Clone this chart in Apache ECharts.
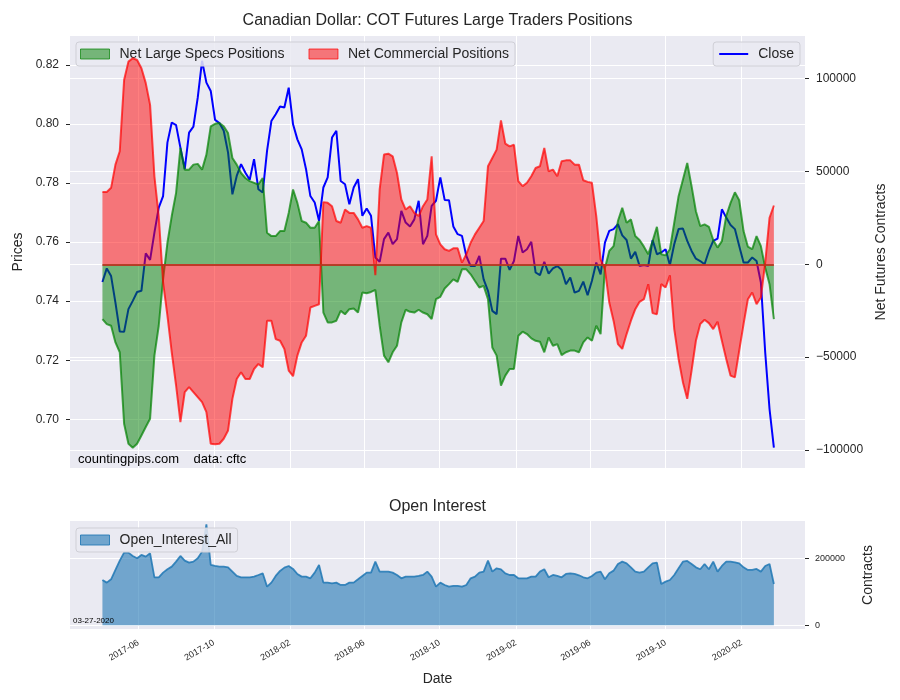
<!DOCTYPE html>
<html><head><meta charset="utf-8">
<script src="https://cdn.jsdelivr.net/npm/echarts@6/dist/echarts.min.js"></script>
<style>html,body{margin:0;padding:0;background:#fff}#chart{width:900px;height:700px}</style>
</head><body><div id="chart"></div>
<script>
// ---- data (weekly COT report dates, first date below, one point per week) ----
const startDate = '2017-04-04';
const closePrices = [
0.7465,0.7511,0.7485,0.7395,0.7297,0.7296,0.7373,0.7401,0.7431,0.7435,
0.7562,0.7540,0.7632,0.7717,0.7756,0.7937,0.8005,0.7996,0.7920,0.7847,
0.7971,0.7991,0.8089,0.8214,0.8140,0.8112,0.8014,0.8003,0.7977,0.7903,
0.7762,0.7824,0.7864,0.7835,0.7811,0.7881,0.7779,0.7768,0.7909,0.8010,
0.8033,0.8059,0.8056,0.8123,0.7999,0.7948,0.7914,0.7847,0.7756,0.7734,
0.7672,0.7785,0.7819,0.7954,0.7977,0.7807,0.7796,0.7728,0.7785,0.7813,
0.7689,0.7714,0.7689,0.7548,0.7533,0.7610,0.7632,0.7593,0.7610,0.7706,
0.7666,0.7653,0.7677,0.7740,0.7593,0.7621,0.7723,0.7740,0.7819,0.7743,
0.7742,0.7653,0.7627,0.7621,0.7553,0.7519,0.7519,0.7553,0.7474,0.7435,
0.7367,0.7356,0.7544,0.7544,0.7506,0.7536,0.7621,0.7565,0.7576,0.7601,
0.7497,0.7488,0.7533,0.7493,0.7511,0.7519,0.7506,0.7457,0.7480,0.7429,
0.7435,0.7466,0.7420,0.7469,0.7531,0.7491,0.7598,0.7638,0.7644,0.7661,
0.7623,0.7607,0.7544,0.7567,0.7519,0.7522,0.7519,0.7607,0.7559,0.7565,
0.7576,0.7522,0.7593,0.7644,0.7646,0.7604,0.7570,0.7544,0.7536,0.7525,
0.7570,0.7604,0.7612,0.7711,0.7683,0.7658,0.7644,0.7587,0.7531,0.7531,
0.7548,0.7536,0.7463,0.7226,0.7034,0.6904];
const netLargeSpecs = [
-29500,-32200,-33100,-42100,-47400,-85900,-96700,-98800,-96700,-92200,
-87700,-83200,-49200,-33100,-8100,11600,26000,38500,62700,51000,
51000,53700,54100,51000,59100,74300,75700,76100,74300,70700,
57300,53700,49200,46500,44800,43900,43000,46500,17000,15200,
15200,17900,17900,27700,40300,33100,23300,22400,19700,19700,
23300,-26000,-31300,-31300,-30400,-25100,-26900,-24200,-23800,-26000,
-15200,-15600,-14900,-13800,-33100,-49200,-52800,-47400,-43900,-31300,
-24500,-25600,-26000,-24500,-26000,-26900,-29500,-18800,-17500,-13000,
-10700,-8100,-9500,-2700,-2700,-5400,-9000,-12500,-11600,-18800,
-44800,-49200,-65300,-60000,-56400,-56400,-38500,-36300,-37600,-39900,
-41200,-41700,-47400,-39400,-43900,-43000,-48900,-47400,-46500,-46500,
-47400,-42100,-39400,-41200,-33100,-37600,-2000,7200,9800,23300,
30400,22400,24200,15200,13100,9500,5400,12500,20200,5400,
4800,8100,22400,36700,45600,54600,42100,28600,20600,21500,
20200,13100,9000,12500,26000,33100,38800,34500,17900,9500,
8100,15200,9800,-1800,-10700,-29500];
const netCommercial = [
39000,39000,41200,53700,60900,99300,109200,111000,110100,105600,
97600,85900,47400,26000,-9800,-27700,-47400,-65300,-85000,-68900,
-66200,-68900,-71600,-74300,-79600,-96700,-97000,-96700,-94000,-89500,
-72500,-61800,-58200,-61800,-61800,-56400,-53700,-55500,-30400,-30400,
-40300,-41200,-45600,-57300,-60300,-49200,-42100,-38500,-23300,-22400,
-21500,33500,33100,31300,23300,22400,29500,27700,27700,24200,
19700,20600,19700,-5900,40300,59100,59600,58200,49200,34900,
29500,31300,27700,26000,31300,34900,58200,16100,10700,8100,
7200,8600,8600,900,5400,11600,16100,19700,23300,52800,
57300,61800,77500,65000,63500,64400,44800,42100,43900,47400,
51900,52800,62700,50100,51000,47400,55500,56000,56000,53700,
53700,45300,44400,43900,26000,2700,-2700,-20600,-30500,-43000,
-45600,-37600,-30400,-24200,-20200,-18800,-10700,-26300,-26900,-10700,
-12500,-5900,-34900,-51000,-63500,-72500,-57300,-41200,-32200,-29900,
-31700,-34900,-31000,-41200,-51000,-60000,-60900,-46500,-32200,-18800,
-15200,-21500,-17900,900,25100,31700];
const openInterest = [
135300,127400,137300,165200,193000,216900,216900,207000,200000,210000,
205000,214900,143300,143300,157200,167200,175100,190000,207000,193000,
187100,190000,200000,219900,301500,180100,177100,175100,175100,173100,
160200,147300,143300,143300,143300,145300,150200,155200,115400,127400,
147300,162200,172100,177100,168200,153200,145300,145300,140300,157200,
180100,127400,127400,125400,127400,120400,120400,127400,127400,137300,
147300,157200,157200,190000,160200,160200,160200,157200,150200,140300,
145300,145300,145300,147300,150200,160200,145300,115400,127400,120400,
115400,117400,117400,115400,120400,140300,145300,157200,160200,193000,
160200,170100,167200,155200,150200,150200,140300,140300,140300,145300,
145300,160200,167200,143300,150200,147300,143300,153200,155200,153200,
149300,143300,140300,147300,157200,160200,137300,155200,163200,183100,
190000,185100,173100,160200,157200,160200,173100,185100,187100,123400,
130300,135300,150200,170100,190000,192000,183100,173100,167200,183100,
167200,190000,160200,177100,190000,190000,188100,185100,173100,165200,
165200,168200,160200,177100,183100,123400];
const xTickLabels = ['2017-06','2017-10','2018-02','2018-06','2018-10','2019-02','2019-06','2019-10','2020-02'];
const priceTicks = [0.70,0.72,0.74,0.76,0.78,0.80,0.82];
const contractTicks = [-100000,-50000,0,50000,100000];
const oiTicks = [0,200000];

// ---- build ----
const DAY = 86400000;
const t0 = Date.parse(startDate + 'T00:00:00Z');
const dates = closePrices.map((_, i) => t0 + i * 7 * DAY);
const tickTimes = xTickLabels.map(s => Date.parse(s + '-01T00:00:00Z'));
const xMin = Date.parse('2017-02-10T14:00:00Z');
const xMax = Date.parse('2020-05-13T07:00:00Z');
const pair = arr => arr.map((v, i) => [dates[i], v]);
const fmtMonth = v => { const d = new Date(v); return d.getUTCFullYear() + '-' + String(d.getUTCMonth() + 1).padStart(2, '0'); };
const fmtInt = v => (v < 0 ? '\u2212' + Math.abs(v) : String(v));

const FONT = 'Liberation Sans, Arial, sans-serif';
const TXT = '#262626';
const BG = '#EAEAF2';
const split = { show: true, lineStyle: { color: '#ffffff', width: 1 } };

const chart = echarts.init(document.getElementById('chart'), null, { renderer: 'canvas' });
chart.setOption({
  backgroundColor: '#ffffff',
  animation: false,
  textStyle: { fontFamily: FONT, color: TXT },
  grid: [
    { left: 70, right: 95, top: 36, height: 432, show: true, backgroundColor: BG, borderWidth: 0 },
    { left: 70, right: 95, top: 521, height: 108, show: true, backgroundColor: BG, borderWidth: 0 }
  ],
  xAxis: [
    { type: 'value', gridIndex: 0, min: xMin, max: xMax, axisLine: { show: false },
      axisTick: { show: false, customValues: tickTimes }, axisLabel: { show: false, customValues: tickTimes },
      splitLine: split },
    { type: 'value', gridIndex: 1, min: xMin, max: xMax, axisLine: { show: false },
      axisTick: { show: false, customValues: tickTimes },
      axisLabel: { customValues: tickTimes, formatter: fmtMonth, rotate: 30, fontSize: 9, color: TXT, margin: 13, fontFamily: FONT },
      splitLine: split,
      name: 'Date', nameLocation: 'middle', nameGap: 43, nameTextStyle: { fontSize: 14, color: TXT, fontFamily: FONT } }
  ],
  yAxis: [
    { type: 'value', gridIndex: 0, position: 'left', min: 0.6835, max: 0.8298,
      axisLine: { show: false },
      axisTick: { show: true, length: 4, customValues: priceTicks, lineStyle: { color: TXT } },
      axisLabel: { customValues: priceTicks, formatter: v => v.toFixed(2), fontSize: 12, color: TXT, margin: 11, fontFamily: FONT },
      splitLine: split,
      name: 'Prices', nameLocation: 'middle', nameGap: 44, nameRotate: 90,
      nameTextStyle: { fontSize: 14, color: TXT, fontFamily: FONT } },
    { type: 'value', gridIndex: 0, position: 'right', min: -109750, max: 123000,
      axisLine: { show: false },
      axisTick: { show: true, length: 4, customValues: contractTicks, lineStyle: { color: TXT } },
      axisLabel: { customValues: contractTicks, formatter: fmtInt, fontSize: 12, color: TXT, margin: 11, fontFamily: FONT },
      splitLine: split,
      name: 'Net Futures Contracts', nameLocation: 'middle', nameGap: 45, nameRotate: 90,
      nameTextStyle: { fontSize: 14, color: TXT, fontFamily: FONT } },
    { type: 'value', gridIndex: 1, position: 'right', min: -11045, max: 311340,
      axisLine: { show: false },
      axisTick: { show: true, length: 4, customValues: oiTicks, lineStyle: { color: TXT } },
      axisLabel: { customValues: oiTicks, formatter: fmtInt, fontSize: 9, color: TXT, margin: 10, fontFamily: FONT },
      splitLine: split,
      name: 'Contracts', nameLocation: 'middle', nameGap: 56, nameRotate: 90,
      nameTextStyle: { fontSize: 14, color: TXT, fontFamily: FONT } }
  ],
  legend: [
    { left: 76, top: 42, orient: 'horizontal', itemWidth: 29, itemHeight: 10, itemGap: 24,
      padding: [5, 6, 5, 4], backgroundColor: 'rgba(234,234,242,0.85)', borderColor: '#cfcfd6', borderWidth: 1, borderRadius: 3,
      textStyle: { fontSize: 14, color: TXT, fontFamily: FONT, padding: [0, 0, 0, 5] },
      data: [
        { name: 'Net Large Specs Positions', icon: 'rect', itemStyle: { color: 'rgba(0,128,0,0.5)', borderColor: 'rgba(0,128,0,0.7)', borderWidth: 1 } },
        { name: 'Net Commercial Positions', icon: 'rect', itemStyle: { color: 'rgba(255,0,0,0.5)', borderColor: 'rgba(255,0,0,0.7)', borderWidth: 1 } }
      ] },
    { right: 100, top: 42, itemWidth: 29, itemHeight: 10,
      padding: [5, 6, 5, 5], backgroundColor: 'rgba(234,234,242,0.85)', borderColor: '#cfcfd6', borderWidth: 1, borderRadius: 3,
      textStyle: { fontSize: 14, color: TXT, fontFamily: FONT, padding: [0, 0, 0, 5] },
      data: [{ name: 'Close', itemStyle: { opacity: 0 }, lineStyle: { color: '#0000ff', width: 2 } }] },
    { left: 76, top: 528, itemWidth: 29, itemHeight: 10,
      padding: [5, 6, 5, 4], backgroundColor: 'rgba(234,234,242,0.85)', borderColor: '#cfcfd6', borderWidth: 1, borderRadius: 3,
      textStyle: { fontSize: 14, color: TXT, fontFamily: FONT, padding: [0, 0, 0, 5] },
      data: [{ name: 'Open_Interest_All', icon: 'rect', itemStyle: { color: 'rgba(31,119,180,0.6)', borderColor: 'rgba(31,119,180,0.85)', borderWidth: 1 } }] }
  ],
  graphic: [
    { type: 'text', x: 437.5, y: 21, style: { text: 'Canadian Dollar: COT Futures Large Traders Positions', font: '16px ' + FONT, fill: TXT, textAlign: 'center', textVerticalAlign: 'middle' } },
    { type: 'text', x: 437.5, y: 507, style: { text: 'Open Interest', font: '16px ' + FONT, fill: TXT, textAlign: 'center', textVerticalAlign: 'middle' } },
    { type: 'text', x: 78, y: 459, z: 100, style: { text: 'countingpips.com    data: cftc', font: '13px ' + FONT, fill: '#000', textAlign: 'left', textVerticalAlign: 'middle' } },
    { type: 'text', x: 73, y: 621, z: 100, style: { text: '03-27-2020', font: '8px ' + FONT, fill: '#000', textAlign: 'left', textVerticalAlign: 'middle' } }
  ],
  series: [
    { name: 'Close', type: 'line', xAxisIndex: 0, yAxisIndex: 0, data: pair(closePrices), symbol: 'none', z: 2,
      color: '#0000ff', lineStyle: { color: '#0000ff', width: 2 } },
    { name: 'Net Large Specs Positions', type: 'line', xAxisIndex: 0, yAxisIndex: 1, data: pair(netLargeSpecs), symbol: 'none', z: 3,
      color: 'rgba(0,128,0,0.5)', lineStyle: { color: 'rgba(0,128,0,0.7)', width: 2 }, areaStyle: { color: 'rgba(0,128,0,0.5)', opacity: 1 } },
    { name: 'Net Commercial Positions', type: 'line', xAxisIndex: 0, yAxisIndex: 1, data: pair(netCommercial), symbol: 'none', z: 4,
      color: 'rgba(255,0,0,0.5)', lineStyle: { color: 'rgba(255,0,0,0.7)', width: 2 }, areaStyle: { color: 'rgba(255,0,0,0.5)', opacity: 1 },
      markLine: { silent: true, symbol: 'none', label: { show: false }, animation: false,
        lineStyle: { color: 'rgba(185,50,30,0.9)', type: 'solid', width: 1.8 },
        data: [[{ coord: [dates[0], 0] }, { coord: [dates[dates.length - 1], 0] }]] } },
    { name: 'Open_Interest_All', type: 'line', xAxisIndex: 1, yAxisIndex: 2, data: pair(openInterest), symbol: 'none', z: 2,
      color: 'rgba(31,119,180,0.6)', lineStyle: { color: 'rgba(31,119,180,0.85)', width: 1.8 }, areaStyle: { color: 'rgba(31,119,180,0.6)', opacity: 1 } }
  ]
});
</script>
</body></html>
